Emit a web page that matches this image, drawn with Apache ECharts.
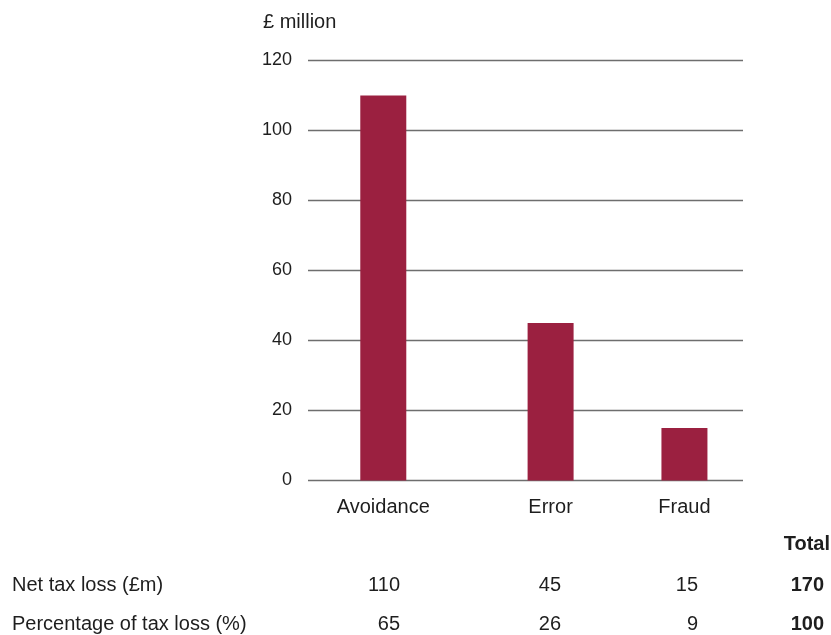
<!DOCTYPE html>
<html>
<head>
<meta charset="utf-8">
<script src="https://cdn.jsdelivr.net/npm/echarts@6/dist/echarts.min.js"></script>
<style>
  html, body { margin: 0; padding: 0; background: #fff; }
  #chart { width: 831px; height: 635px; }
</style>
</head>
<body>
<div id="chart"></div>
<script>
// Net tax loss by behaviour
const categories = ['Avoidance', 'Error', 'Fraud'];
const netTaxLoss = [110, 45, 15];          // £ million
const pctTaxLoss = [65, 26, 9];            // % of total
const totalNet = 170;
const totalPct = 100;
const yMin = 0, yMax = 120, yStep = 20;

// Layout: the category axis is split into narrow slots so the bars
// sit at uneven horizontal positions under the value grid.
const SLOT_COUNT = 26;
const SLOT_OF = [4, 14, 22];

const FONT = '"Liberation Sans", Arial, sans-serif';
const INK = '#1e1e1e';
const BAR = '#9b2040';

const slotNames = [];
const slotValues = [];
for (let i = 0; i < SLOT_COUNT; i++) {
  const k = SLOT_OF.indexOf(i);
  slotNames.push(k >= 0 ? categories[k] : 'slot' + i);
  slotValues.push(k >= 0 ? netTaxLoss[k] : '-');
}

// Table rows under the chart (right-aligned number columns)
const colRight = [400, 561, 698];
const totalRight = 824;
const rowY = [585, 624];

const txt = (x, y, text, opts) => ({
  type: 'text', x, y,
  style: Object.assign({ text, font: '20px ' + FONT, fill: INK, verticalAlign: 'middle' }, opts || {})
});

const graphics = [
  txt(263, 22, '£ million'),
  txt(830, 544, 'Total', { font: 'bold 20px ' + FONT, align: 'right' }),
  txt(12, rowY[0], 'Net tax loss (£m)'),
  txt(12, rowY[1], 'Percentage of tax loss (%)'),
  txt(totalRight, rowY[0], String(totalNet), { font: 'bold 20px ' + FONT, align: 'right' }),
  txt(totalRight, rowY[1], String(totalPct), { font: 'bold 20px ' + FONT, align: 'right' })
];
categories.forEach((c, i) => {
  graphics.push(txt(colRight[i], rowY[0], String(netTaxLoss[i]), { align: 'right' }));
  graphics.push(txt(colRight[i], rowY[1], String(pctTaxLoss[i]), { align: 'right' }));
});

const chart = echarts.init(document.getElementById('chart'), null, { renderer: 'canvas' });
chart.setOption({
  animation: false,
  backgroundColor: '#fff',
  grid: { left: 308, right: 88, top: 60.5, bottom: 154.5, containLabel: false },
  xAxis: {
    type: 'category',
    data: slotNames,
    boundaryGap: true,
    axisLine: { show: false },
    axisTick: { show: false },
    axisLabel: {
      interval: 0,
      margin: 17,
      color: INK,
      fontFamily: FONT,
      fontSize: 20,
      formatter: v => (categories.indexOf(v) >= 0 ? v : '')
    },
    splitLine: { show: false }
  },
  yAxis: {
    type: 'value',
    min: yMin, max: yMax, interval: yStep,
    axisLine: { show: false },
    axisTick: { show: false },
    axisLabel: { margin: 16, color: INK, fontFamily: FONT, fontSize: 18 },
    splitLine: { show: true, lineStyle: { color: '#6e6e6e', width: 1.3 } }
  },
  series: [{
    type: 'bar',
    data: slotValues,
    barWidth: 46,
    itemStyle: { color: BAR },
    z: 3
  }],
  graphic: graphics
});
</script>
</body>
</html>
